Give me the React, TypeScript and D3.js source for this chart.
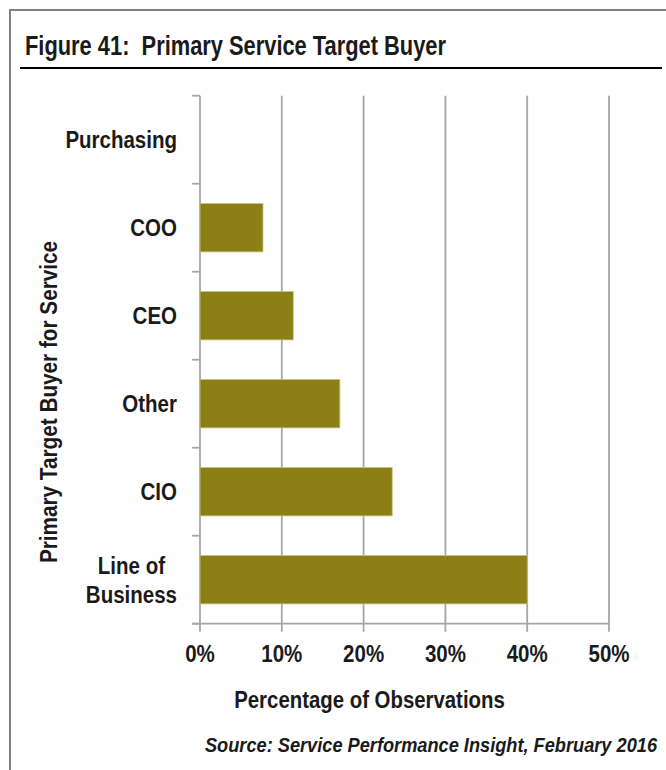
import * as React from 'react';
import { useRef, useEffect } from 'react';
import * as d3 from 'd3';

const categories = ['Purchasing', 'COO', 'CEO', 'Other', 'CIO', 'Line of\nBusiness'];
const values = [0, 7.7, 11.4, 17.1, 23.5, 40];
const xTicks = [0, 10, 20, 30, 40, 50];

const FONT = '"Liberation Sans", Arial, sans-serif';
const INK = '#1a1a1a';

type TextOpts = {
  size: number;
  sx: number; // horizontal squeeze, stands in for Arial Narrow
  anchor?: string;
  italic?: boolean;
};

function addText(parent: d3.Selection<any, unknown, null, undefined>, x: number, y: number, str: string, o: TextOpts) {
  return parent.append('text')
    .attr('transform', `translate(${x},${y}) scale(${o.sx},1)`)
    .attr('text-anchor', o.anchor || 'start')
    .attr('font-family', FONT)
    .attr('font-weight', 'bold')
    .attr('font-style', o.italic ? 'italic' : 'normal')
    .attr('font-size', o.size)
    .attr('fill', INK)
    .style('white-space', 'pre')
    .text(str);
}

export default function App() {
  const svgRef = useRef<SVGSVGElement | null>(null);

  useEffect(() => {
    if (!svgRef.current) return;
    const svg = d3.select(svgRef.current);
    svg.selectAll('*').remove();

    const width = 666;
    const height = 770;
    const plot = { left: 200, right: 609, top: 95.7, bottom: 623.7 };
    const grid = '#a6a6a6';
    const labelSize = 23.3;
    const sx = 0.88;

    // frame
    svg.append('path')
      .attr('d', `M10,${height} V10 H${width}`)
      .attr('fill', 'none')
      .attr('stroke', '#808080')
      .attr('stroke-width', 2);

    addText(svg, 25, 55, 'Figure 41:  Primary Service Target Buyer', { size: 27, sx: 0.81 });

    svg.append('line')
      .attr('x1', 20).attr('x2', 662)
      .attr('y1', 68).attr('y2', 68)
      .attr('stroke', '#000')
      .attr('stroke-width', 2);

    const x = d3.scaleLinear().domain([0, 50]).range([plot.left, plot.right]);
    const y = d3.scaleBand<string>()
      .domain(categories)
      .range([plot.top, plot.bottom])
      .paddingInner(0.45)
      .paddingOuter(0.225);

    const g = svg.append('g');

    // vertical gridlines + tick labels
    xTicks.forEach(t => {
      g.append('line')
        .attr('x1', x(t)).attr('x2', x(t))
        .attr('y1', plot.top).attr('y2', plot.bottom + 8)
        .attr('stroke', grid)
        .attr('stroke-width', 1.8);
      addText(g, x(t), 661.5, `${t}%`, { size: labelSize, sx, anchor: 'middle' });
    });

    // category boundary ticks
    const step = y.step();
    d3.range(categories.length + 1).forEach(i => {
      const yy = plot.top + i * step;
      g.append('line')
        .attr('x1', plot.left - 8).attr('x2', plot.left)
        .attr('y1', yy).attr('y2', yy)
        .attr('stroke', grid)
        .attr('stroke-width', 1.8);
    });

    // x axis line
    g.append('line')
      .attr('x1', plot.left - 8).attr('x2', plot.right)
      .attr('y1', plot.bottom).attr('y2', plot.bottom)
      .attr('stroke', grid)
      .attr('stroke-width', 1.8);

    // bars
    categories.forEach((c, i) => {
      const v = values[i];
      if (v > 0) {
        g.append('rect')
          .attr('x', x(0))
          .attr('y', y(c)!)
          .attr('width', x(v) - x(0))
          .attr('height', y.bandwidth())
          .attr('fill', '#8b7f16')
          .attr('stroke', '#c9c38a')
          .attr('stroke-width', 0.8);
      }
    });

    // category labels (multi-line ones centred on each other, block right-aligned)
    categories.forEach(c => {
      const lines = c.split('\n');
      const center = y(c)! + y.bandwidth() / 2;
      const lineH = 29;
      const label = addText(g, 0, 0, '', { size: labelSize, sx, anchor: 'middle' });
      const spans = lines.map((ln, j) =>
        label.append('tspan')
          .attr('x', 0)
          .attr('y', (j - (lines.length - 1) / 2) * lineH)
          .text(ln)
      );
      let maxW = 0;
      spans.forEach(s => {
        const w = (s.node() as SVGTSpanElement).getComputedTextLength() * sx;
        if (w > maxW) maxW = w;
      });
      label.attr('transform', `translate(${177 - maxW / 2},${center + 8.3}) scale(${sx},1)`);
    });

    // axis titles
    addText(svg, 0, 0, 'Primary Target Buyer for Service', { size: labelSize, sx: 0.89, anchor: 'middle' })
      .attr('transform', 'translate(57, 402) rotate(-90) scale(0.89,1)');

    addText(svg, 369.5, 708, 'Percentage of Observations', { size: labelSize, sx: 0.875, anchor: 'middle' });

    addText(svg, 657, 752, 'Source: Service Performance Insight, February 2016', { size: 21, sx: 0.867, anchor: 'end', italic: true });
  }, []);

  return (
    <svg
      ref={svgRef}
      width={666}
      height={770}
      style={{ position: 'absolute', left: 0, top: 0, background: '#fff', display: 'block' }}
    />
  );
}
